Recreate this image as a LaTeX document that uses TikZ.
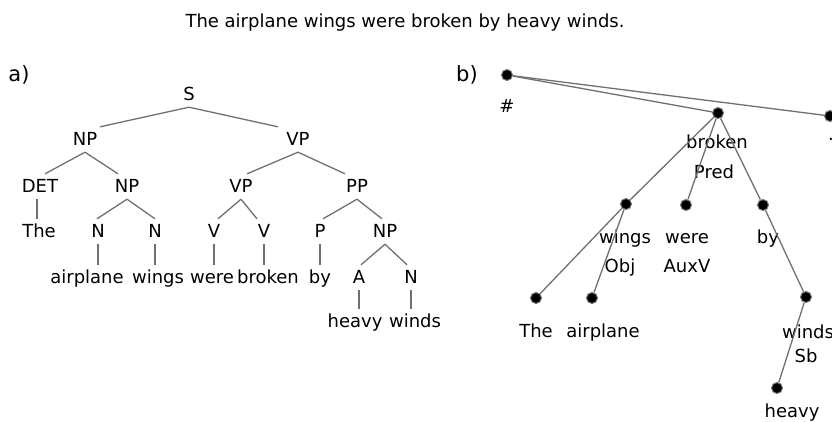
\documentclass[tikz,border=0pt]{standalone}
\usepackage{fontspec}
\setmainfont{DejaVu Sans}
\definecolor{lc}{RGB}{112,112,112}
\definecolor{dc}{RGB}{120,120,120}
\begin{document}
\begin{tikzpicture}[x=1pt,y=-1pt,
  every node/.style={font=\fontsize{18}{21}\selectfont, text=black},
  tn/.style={text height=15pt, text depth=4pt, inner xsep=1pt, inner ysep=3pt, anchor=base},
  lab/.style={inner sep=0pt, anchor=base},
  big/.style={lab, font=\fontsize{21}{24}\selectfont},
  ln/.style={draw=lc, line width=1.3pt},
  dotn/.style={circle, fill=black, draw=dc, line width=1pt, minimum size=11pt, inner sep=0pt}]
\useasboundingbox (0,0) rectangle (832,421);
\clip (0,0) rectangle (832,421);

% title and labels
\node[lab] (title) at (405,27) {The airplane wings were broken by heavy winds.};
\node[big] (la) at (19,81) {a)};
\node[big] (lb) at (467,81) {b)};

% ---------- tree a ----------
\node[tn] (S) at (189,100) {S};
\node[tn] (NPa) at (85,145) {NP};
\node[tn] (VPa) at (298,145) {VP};
\node[tn] (DET) at (40,192) {DET};
\node[tn] (NPb) at (127,192) {NP};
\node[tn] (VPb) at (241,192) {VP};
\node[tn] (PP) at (357,192) {PP};
\node[tn] (The) at (39,237) {The};
\node[tn] (Na) at (98,237) {N};
\node[tn] (Nb) at (155,237) {N};
\node[tn] (Va) at (214,237) {V};
\node[tn] (Vb) at (264,237) {V};
\node[tn] (P) at (320,237) {P};
\node[tn] (NPc) at (385,237) {NP};
\node[tn] (airplane) at (87,283) {airplane};
\node[tn] (wings) at (158,283) {wings};
\node[tn] (were) at (212,283) {were};
\node[tn] (broken) at (268,283) {broken};
\node[tn] (by) at (320,283) {by};
\node[tn] (A) at (359,283) {A};
\node[tn] (Nc) at (411,283) {N};
\node[tn] (heavy) at (355,327) {heavy};
\node[tn] (winds) at (415,327) {winds};

\draw[ln] (S.south) -- ([xshift=15pt]NPa.north);
\draw[ln] (S.south) -- ([xshift=-20pt]VPa.north);
\draw[ln] (NPa.south) -- ([xshift=5pt]DET.north);
\draw[ln] (NPa.south) -- ([xshift=-9pt]NPb.north);
\draw[ln] (VPa.south) -- ([xshift=6pt]VPb.north);
\draw[ln] (VPa.south) -- ([xshift=-12pt]PP.north);
\draw[ln] ([xshift=-3pt]DET.south) -- ([xshift=-3pt]DET.south |- The.north);
\draw[ln] (NPb.south) -- ([xshift=-1pt]Na.north);
\draw[ln] (NPb.south) -- (Nb.north);
\draw[ln] (Na.south) -- (Na.south |- airplane.north);
\draw[ln] (Nb.south) -- (Nb.south |- wings.north);
\draw[ln] (VPb.south) -- ([xshift=4pt]Va.north);
\draw[ln] (VPb.south) -- ([xshift=-7pt]Vb.north);
\draw[ln] (Va.south) -- (Va.south |- were.north);
\draw[ln] (Vb.south) -- (Vb.south |- broken.north);
\draw[ln] (PP.south) -- ([xshift=3pt]P.north);
\draw[ln] (PP.south) -- ([xshift=-3pt]NPc.north);
\draw[ln] (P.south) -- (P.south |- by.north);
\draw[ln] (NPc.south) -- ([xshift=2pt]A.north);
\draw[ln] (NPc.south) -- ([xshift=-4pt]Nc.north);
\draw[ln] (A.south) -- (A.south |- heavy.north);
\draw[ln] (Nc.south) -- (Nc.south |- winds.north);

% ---------- tree b ----------
\node[dotn] (dHash) at (507,75) {};
\node[dotn] (dBroken) at (718,113) {};
\node[dotn] (dDot) at (830,116) {};
\node[dotn] (dWings) at (626,204) {};
\node[dotn] (dWere) at (686,205) {};
\node[dotn] (dBy) at (763,205) {};
\node[dotn] (dThe) at (536,298) {};
\node[dotn] (dAirplane) at (592,298) {};
\node[dotn] (dWinds) at (806,297) {};
\node[dotn] (dHeavy) at (777,388) {};

\node[lab] (tHash) at (507,112) {\#};
\node[lab] (tBroken) at (717,148) {broken};
\node[lab] (tPred) at (714,178) {Pred};
\node[lab] (tWings) at (625,243) {wings};
\node[lab] (tObj) at (620,272) {Obj};
\node[lab] (tWere) at (687,243) {were};
\node[lab] (tAuxV) at (687,272) {AuxV};
\node[lab] (tBy) at (768,243) {by};
\node[lab] (tThe) at (536,337) {The};
\node[lab] (tAirplane) at (603,337) {airplane};
\node[lab] (tWinds) at (808,338) {winds};
\node[lab] (tSb) at (806,362) {Sb};
\node[lab] (tHeavy) at (792,417) {heavy};
\node[lab] (tDot) at (831,140) {.};

\draw[ln] (dHash) -- (dBroken);
\draw[ln] (dHash) -- (dDot);
\draw[ln] (dBroken) -- (dWings);
\draw[ln] (dBroken) -- (dWere);
\draw[ln] (dBroken) -- (dBy);
\draw[ln] (dWings) -- (dThe);
\draw[ln] (dWings) -- (dAirplane);
\draw[ln] (dBy) -- (dWinds);
\draw[ln] (dWinds) -- (dHeavy);
\end{tikzpicture}
\end{document}
